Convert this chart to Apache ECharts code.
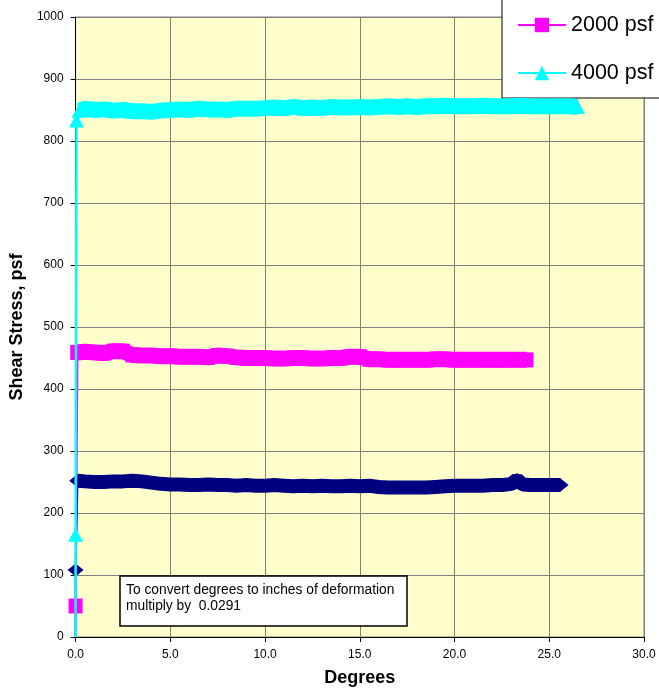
<!DOCTYPE html>
<html><head><meta charset="utf-8">
<script src="https://cdn.jsdelivr.net/npm/echarts@6/dist/echarts.min.js"></script>
<style>html,body{margin:0;padding:0;background:#fff}#c{width:659px;height:692px}</style>
</head><body><div id="c"></div>
<script>
const seriesNames = ['1000 psf', '2000 psf', '4000 psf'];
const xTickLabels = ['0.0', '5.0', '10.0', '15.0', '20.0', '25.0', '30.0'];
const yTickLabels = ['0', '100', '200', '300', '400', '500', '600', '700', '800', '900', '1000'];
const note = ['To convert degrees to inches of deformation', 'multiply by  0.0291'];

// [degrees, shear stress psf]
const rise1000 = [[0, 0], [0, 108], [0.1, 252]];
const band1000 = [[0.1,252],[0.5,251],[1,250],[1.5,250],[2,251],[2.5,251],[3,252],[3.5,251],[4,249],[4.5,247],[5,246],[5.5,246],[6,245],[6.5,245],[7,246],[7.5,245],[8,245],[8.5,244],[9,245],[9.5,244],[10,244],[10.5,245],[11,244],[11.5,243],[12,244],[12.5,243],[13,244],[13.5,243],[14,243],[14.5,244],[15,243],[15.5,244],[16,242],[16.5,241],[17,241],[17.5,241],[18,241],[18.5,241],[19,242],[19.5,243],[20,244],[20.5,244],[21,244],[21.5,244],[22,245],[22.5,245],[23,247],[23.3,254],[23.6,246],[24,245],[24.5,245],[25,245],[25.6,245]];

const rise2000 = [[0, 0], [0, 50], [0.1, 459]];
const band2000 = [[0.1,459],[0.5,460],[1,459],[1.5,458],[2,461],[2.5,461],[3,455],[3.5,454],[4,454],[4.5,453],[5,453],[5.5,452],[6,452],[6.5,452],[7,451],[7.5,454],[8,453],[8.5,451],[9,450],[9.5,450],[10,450],[10.5,449],[11,449],[11.5,450],[12,450],[12.5,449],[13,449],[13.5,450],[14,450],[14.5,452],[15,452],[15.5,448],[16,448],[16.5,447],[17,447],[17.5,447],[18,447],[18.5,447],[19,448],[19.5,448],[20,447],[20.5,447],[21,447],[21.5,447],[22,447],[22.5,447],[23,447],[23.8,447]];

const rise4000 = [[0, 0], [0, 165], [0.05, 833], [0.2, 849]];
const band4000 = [[0.2,849],[0.5,852],[1,850],[1.5,851],[2,849],[2.5,850],[3,848],[3.5,848],[4,847],[4.5,849],[5,850],[5.5,851],[6,850],[6.5,852],[7,851],[7.5,851],[8,850],[8.5,852],[9,852],[9.5,852],[10,853],[10.5,854],[11,853],[11.5,855],[12,853],[12.5,854],[13,853],[13.5,855],[14,854],[14.5,854],[15,855],[15.5,854],[16,855],[16.5,856],[17,855],[17.5,856],[18,855],[18.5,856],[19,856],[19.5,857],[20,856],[20.5,856],[21,856],[21.5,857],[22,856],[22.5,856],[23,856],[23.5,857],[24,856],[24.5,856],[25,856],[25.5,856],[26,856],[26.5,855]];

const FONT = 'Liberation Sans, Arial, sans-serif';
const styles = [
  {color: '#000080', symbol: 'diamond', size: [16, 13], band: 14, rise: 2},
  {color: '#FF00FF', symbol: 'rect', size: [14, 15], band: 16, rise: 2},
  {color: '#00FFFF', symbol: 'triangle', size: [15, 14], band: 16, rise: 2.5}
];
const rises = [rise1000, rise2000, rise4000];
const bands = [band1000, band2000, band4000];

const series = [];
seriesNames.forEach((name, i) => {
  const st = styles[i];
  series.push({
    type: 'line', name: name,
    data: rises[i].map((p, j) => (j === 0 && p[1] === 0) ? {value: p, symbol: 'none'} : p),
    symbol: st.symbol, symbolSize: st.size, showSymbol: true, clip: false,
    lineStyle: {color: st.color, width: st.rise},
    itemStyle: {color: st.color, borderWidth: 0},
    emphasis: {disabled: true}, z: 2 + i
  });
  series.push({
    type: 'line', name: name,
    data: bands[i],
    symbol: st.symbol, symbolSize: st.size, showSymbol: true, clip: false,
    lineStyle: {color: st.color, width: st.band},
    itemStyle: {color: st.color, borderWidth: 0},
    emphasis: {disabled: true}, z: 2 + i
  });
});

const chart = echarts.init(document.getElementById('c'), null, {renderer: 'canvas'});
chart.setOption({
  animation: false,
  textStyle: {fontFamily: FONT},
  grid: {left: 75, right: 15, top: 17, bottom: 51, show: true, backgroundColor: '#FFFFCC', borderColor: '#808080', borderWidth: 1},
  legend: {
    data: seriesNames, orient: 'vertical', left: 502, top: -48,
    padding: [13, 15, 13, 15], itemGap: 24, itemWidth: 48, itemHeight: 18,
    backgroundColor: '#fff', borderColor: '#000', borderWidth: 1, borderRadius: 0,
    lineStyle: {width: 2},
    textStyle: {fontFamily: FONT, fontSize: 21.5, color: '#000', lineHeight: 24}
  },
  xAxis: {
    type: 'value', min: 0, max: 30, interval: 5,
    name: 'Degrees', nameLocation: 'middle', nameGap: 32,
    nameTextStyle: {fontFamily: FONT, fontSize: 18, fontWeight: 'bold', color: '#000'},
    axisLine: {show: true, onZero: false, lineStyle: {color: '#000', width: 1}},
    axisTick: {show: true, length: 5, lineStyle: {color: '#000'}},
    axisLabel: {color: '#000', fontSize: 12, fontFamily: FONT, margin: 12,
      formatter: v => xTickLabels[Math.round(v / 5)]},
    splitLine: {show: true, lineStyle: {color: '#808080', width: 1}}
  },
  yAxis: {
    type: 'value', min: 0, max: 1000, interval: 100,
    name: 'Shear Stress, psf', nameLocation: 'middle', nameGap: 49, nameRotate: 90,
    nameTextStyle: {fontFamily: FONT, fontSize: 18, fontWeight: 'bold', color: '#000'},
    axisLine: {show: true, lineStyle: {color: '#000', width: 1}},
    axisTick: {show: true, length: 5, lineStyle: {color: '#000'}},
    axisLabel: {color: '#000', fontSize: 12, fontFamily: FONT, margin: 12,
      formatter: v => yTickLabels[Math.round(v / 100)]},
    splitLine: {show: true, lineStyle: {color: '#808080', width: 1}}
  },
  graphic: [
    {type: 'rect', shape: {x: 120, y: 576, width: 287, height: 50},
      style: {fill: '#fff', stroke: '#000', lineWidth: 1.5}, z: 100},
    {type: 'text', x: 126, y: 582, z: 101,
      style: {text: note.join('\n'), fontFamily: FONT, fontSize: 13.8, lineHeight: 16, fill: '#000', verticalAlign: 'top', align: 'left'}}
  ],
  series: series
});
</script>
</body></html>
